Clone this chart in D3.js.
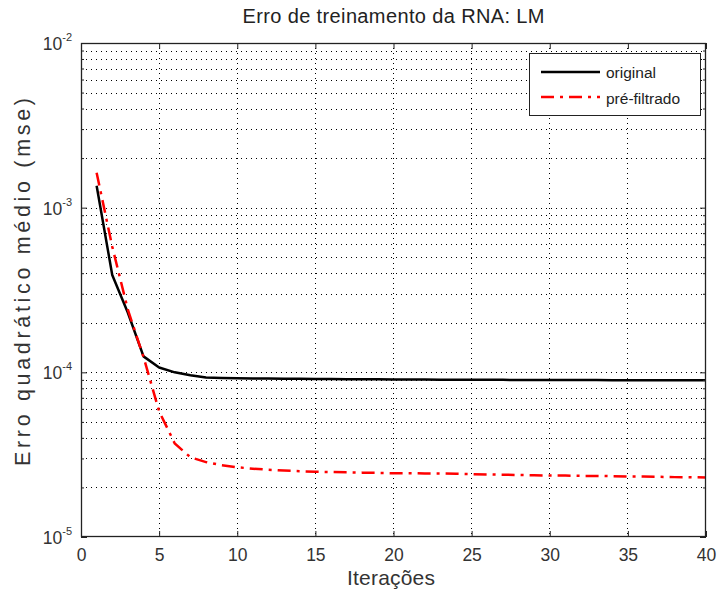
<!DOCTYPE html>
<html><head><meta charset="utf-8">
<script src="https://cdn.jsdelivr.net/npm/d3@7"></script>
<style>body{margin:0;background:#fff}svg text{font-family:"Liberation Sans",Arial,sans-serif}</style>
</head><body><svg id="c" width="718" height="593"></svg>
<script>
const iterations = d3.range(1, 41);
const original = [1.36e-3,3.9e-4,2.3e-4,1.25e-4,1.07e-4,1.0e-4,9.6e-5,9.3e-5,9.25e-5,9.2e-5,
 9.18e-5,9.16e-5,9.15e-5,9.14e-5,9.12e-5,9.1e-5,9.09e-5,9.08e-5,9.07e-5,9.06e-5,
 9.05e-5,9.04e-5,9.03e-5,9.02e-5,9.01e-5,9.0e-5,9.0e-5,8.99e-5,8.99e-5,8.98e-5,
 8.98e-5,8.97e-5,8.97e-5,8.96e-5,8.96e-5,8.95e-5,8.95e-5,8.95e-5,8.94e-5,8.94e-5];
const prefiltrado = [1.63e-3,5.8e-4,2.4e-4,1.24e-4,5.8e-5,3.7e-5,3.05e-5,2.85e-5,2.73e-5,2.65e-5,
 2.6e-5,2.56e-5,2.53e-5,2.51e-5,2.49e-5,2.48e-5,2.47e-5,2.46e-5,2.45e-5,2.44e-5,
 2.44e-5,2.43e-5,2.43e-5,2.42e-5,2.41e-5,2.4e-5,2.39e-5,2.38e-5,2.37e-5,2.36e-5,
 2.36e-5,2.35e-5,2.35e-5,2.34e-5,2.33e-5,2.33e-5,2.32e-5,2.31e-5,2.31e-5,2.30e-5];
const xTicks = [0,5,10,15,20,25,30,35,40];
const yExponents = [-2,-3,-4,-5];
const seriesNames = ["original","pré-filtrado"];
const title = "Erro de treinamento da RNA: LM";
const xLabel = "Iterações";
const yLabel = "Erro quadrático médio (mse)";

const svg = d3.select("#c");
const L=81, R=706, T=43, B=537;
const x = d3.scaleLinear().domain([0,40]).range([L,R]);
const y = d3.scaleLog().domain([1e-5,1e-2]).range([B,T]);

const minor = [];
for (let e=-5;e<-2;e++) for (let k=2;k<=9;k++) minor.push(k*Math.pow(10,e));
const majors = yExponents.map(e=>Math.pow(10,e));

const g = svg.append("g");
// grid
const grid = g.append("g").attr("stroke","#000").attr("stroke-width",1).attr("stroke-dasharray","1,4").attr("shape-rendering","crispEdges");
xTicks.slice(1,-1).forEach(v=>grid.append("line").attr("x1",x(v)).attr("x2",x(v)).attr("y1",T).attr("y2",B));
majors.concat(minor).filter(v=>v>1e-5&&v<1e-2).forEach(v=>grid.append("line").attr("x1",L).attr("x2",R).attr("y1",Math.round(y(v))+0.5).attr("y2",Math.round(y(v))+0.5));

// lines
const line = d3.line().x((d,i)=>x(iterations[i])).y(d=>y(d));
g.append("path").datum(original).attr("d",line).attr("fill","none").attr("stroke","#000").attr("stroke-width",2.5).attr("stroke-linejoin","round");
g.append("path").datum(prefiltrado).attr("d",line).attr("fill","none").attr("stroke","#ff0000").attr("stroke-width",2.5).attr("stroke-dasharray","13,6,3,6");

// frame
g.append("rect").attr("x",L+0.5).attr("y",T+0.5).attr("width",R-L-1).attr("height",B-T-1).attr("fill","none").attr("stroke","#222").attr("stroke-width",1.3);

// axes with inner ticks
const axB = d3.axisBottom(x).tickValues(xTicks).tickSizeInner(-6).tickSizeOuter(0).tickPadding(0);
const gx = g.append("g").attr("transform",`translate(0,${B})`).call(axB);
gx.select(".domain").remove();
gx.selectAll("text").attr("font-size",17.5).attr("fill","#333").attr("dy",null).attr("y",24);
gx.selectAll("line").attr("stroke","#222");
const axT = d3.axisTop(x).tickValues(xTicks).tickSizeInner(-6).tickSizeOuter(0).tickFormat("");
const gt = g.append("g").attr("transform",`translate(0,${T})`).call(axT);
gt.select(".domain").remove(); gt.selectAll("line").attr("stroke","#222");

function yticks(axisFn, tx, size){
  const a = axisFn(y).tickValues(majors.concat(minor)).tickSizeInner(0).tickSizeOuter(0).tickFormat("");
  const gg = g.append("g").attr("transform",`translate(${tx},0)`).call(a);
  gg.select(".domain").remove();
  gg.selectAll(".tick line").attr("x2",d=>{const m=majors.includes(d)?6:3; return size*m;}).attr("stroke","#222");
  return gg;
}
yticks(d3.axisLeft, L, 1);
yticks(d3.axisRight, R, -1);

// y tick labels
majors.forEach((v,i)=>{
  const t = g.append("text").attr("x",L-9).attr("y",y(v)+7).attr("text-anchor","end").attr("font-size",17.5).attr("fill","#333");
  t.append("tspan").text("10");
  t.append("tspan").attr("dy",-9).attr("font-size",11).text(String(yExponents[i]));
});

// titles
svg.append("text").attr("x",(L+R)/2).attr("y",23).attr("text-anchor","middle").attr("font-size",20).attr("fill","#222")
  .attr("textLength",302).attr("lengthAdjust","spacing").text(title);
svg.append("text").attr("x",391).attr("y",585).attr("text-anchor","middle").attr("font-size",21).attr("fill","#333")
  .attr("textLength",88).attr("lengthAdjust","spacing").text(xLabel);
svg.append("text").attr("transform",`translate(30,282) rotate(-90)`).attr("text-anchor","middle").attr("font-size",21.5).attr("fill","#333")
  .attr("textLength",368).attr("lengthAdjust","spacing").text(yLabel);

// legend
const lg = svg.append("g");
lg.append("rect").attr("x",529.5).attr("y",53.5).attr("width",171).attr("height",62).attr("fill","#fff").attr("stroke","#222").attr("stroke-width",1);
lg.append("line").attr("x1",541).attr("x2",600).attr("y1",72).attr("y2",72).attr("stroke","#000").attr("stroke-width",2.5);
lg.append("line").attr("x1",541).attr("x2",600).attr("y1",97).attr("y2",97).attr("stroke","#ff0000").attr("stroke-width",2.5).attr("stroke-dasharray","13,6,3,6");
lg.append("text").attr("x",606).attr("y",78).attr("font-size",15.5).attr("fill","#222").text(seriesNames[0]);
lg.append("text").attr("x",606).attr("y",104).attr("font-size",15.5).attr("fill","#222").text(seriesNames[1]);
</script></body></html>
